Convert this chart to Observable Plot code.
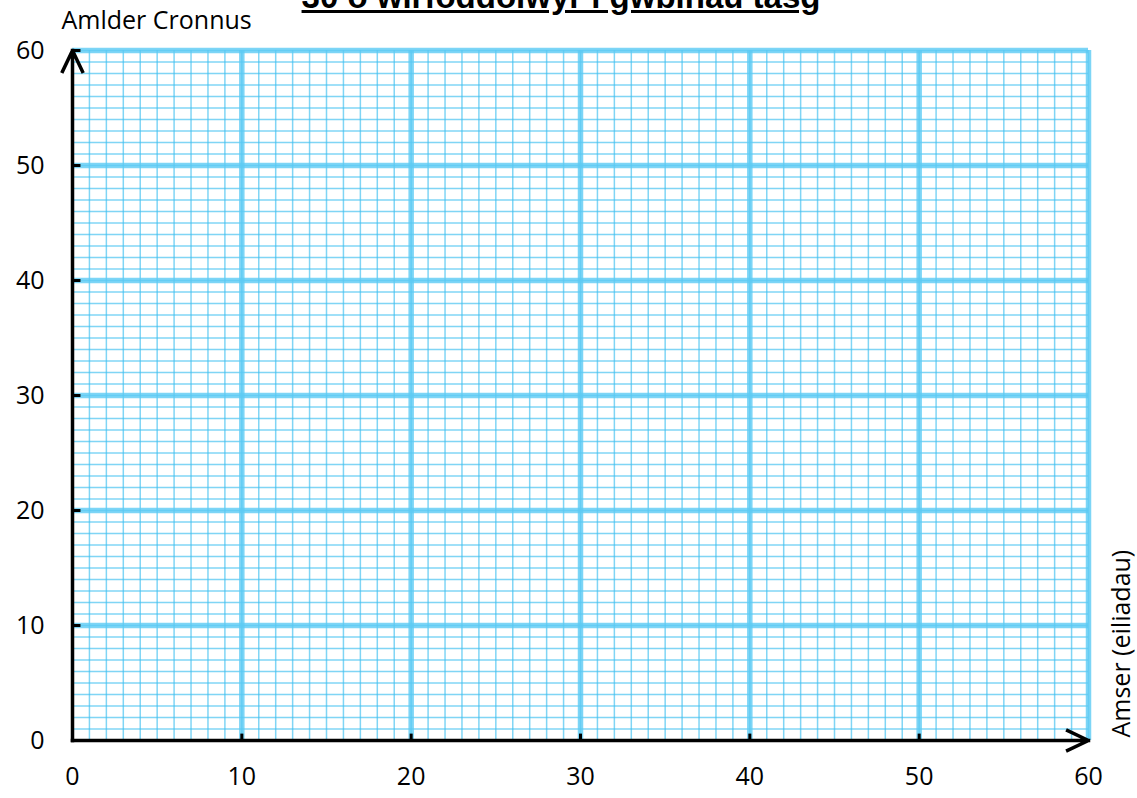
<!DOCTYPE html>
<html><head><meta charset="utf-8">
<script src="https://cdn.jsdelivr.net/npm/d3@7"></script>
<script src="https://cdn.jsdelivr.net/npm/@observablehq/plot@0.6"></script>
<style>
body{margin:0;background:#fff;}
#wrap{position:relative;width:1137px;height:798px;overflow:hidden;}
#title{position:absolute;left:0;top:-20px;width:1122px;text-align:center;font:bold 33px "Liberation Sans",Arial,sans-serif;line-height:33px;text-decoration:underline;color:#000;white-space:nowrap;}
</style></head><body>
<div id="wrap"><div id="chart"></div><div id="title"></div></div>
<script>
const titleText = "30 o wirfoddolwyr i gwblhau tasg";
const yLabel = "Amlder Cronnus";
const xLabel = "Amser (eiliadau)";
const xMajorTicks = [0, 10, 20, 30, 40, 50, 60];
const yMajorTicks = [0, 10, 20, 30, 40, 50, 60];
const xMinorTicks = d3.range(0, 61, 1);
const yMinorTicks = d3.range(0, 61, 1);
const axisArrows = [{x1: 0, y1: 0, x2: 0, y2: 60}, {x1: 0, y1: 0, x2: 60, y2: 0}];

document.getElementById("title").textContent = titleText;

const minorStyle = {stroke: "#3cbff0", strokeOpacity: 0.65, strokeWidth: 1.5};
const majorStyle = {stroke: "#5ccbf4", strokeOpacity: 0.8, strokeWidth: 5.5};

const chart = Plot.plot({
  width: 1137,
  height: 798,
  marginLeft: 72,
  marginRight: 49,
  marginTop: 50,
  marginBottom: 58,
  style: {fontFamily: "'Open Sans', sans-serif", fontSize: "25px", color: "#000", background: "#fff"},
  x: {domain: [0, 60], label: null},
  y: {domain: [0, 60], label: null},
  marks: [
    Plot.gridX(xMinorTicks, minorStyle),
    Plot.gridY(yMinorTicks, minorStyle),
    Plot.gridX(xMajorTicks.slice(1), majorStyle),
    Plot.gridY(yMajorTicks.slice(1), majorStyle),
    Plot.axisX(xMajorTicks, {tickSize: 0, tickPadding: 27, label: null}),
    Plot.axisY(yMajorTicks, {tickSize: 0, tickPadding: 28, label: null}),
    Plot.link(xMajorTicks.slice(1, -1), {x1: d => d, x2: d => d, y1: 0, y2: 0.6, stroke: "black", strokeWidth: 3}),
    Plot.link(yMajorTicks.slice(1), {x1: 0, x2: 0.47, y1: d => d, y2: d => d, stroke: "black", strokeWidth: 3}),
    Plot.arrow(axisArrows, {x1: "x1", y1: "y1", x2: "x2", y2: "y2", stroke: "black", strokeWidth: 3.5, headLength: 9.9, headAngle: 51, strokeLinecap: "square"}),
    Plot.text([yLabel], {text: d => d, frameAnchor: "top-left", textAnchor: "start", lineAnchor: "bottom", dx: -11, dy: -22, fontSize: 25}),
    Plot.text([xLabel], {text: d => d, frameAnchor: "bottom-right", rotate: -90, textAnchor: "start", lineAnchor: "bottom", dx: 41, dy: -3, fontSize: 25})
  ]
});
document.getElementById("chart").appendChild(chart);
</script>
</body></html>
